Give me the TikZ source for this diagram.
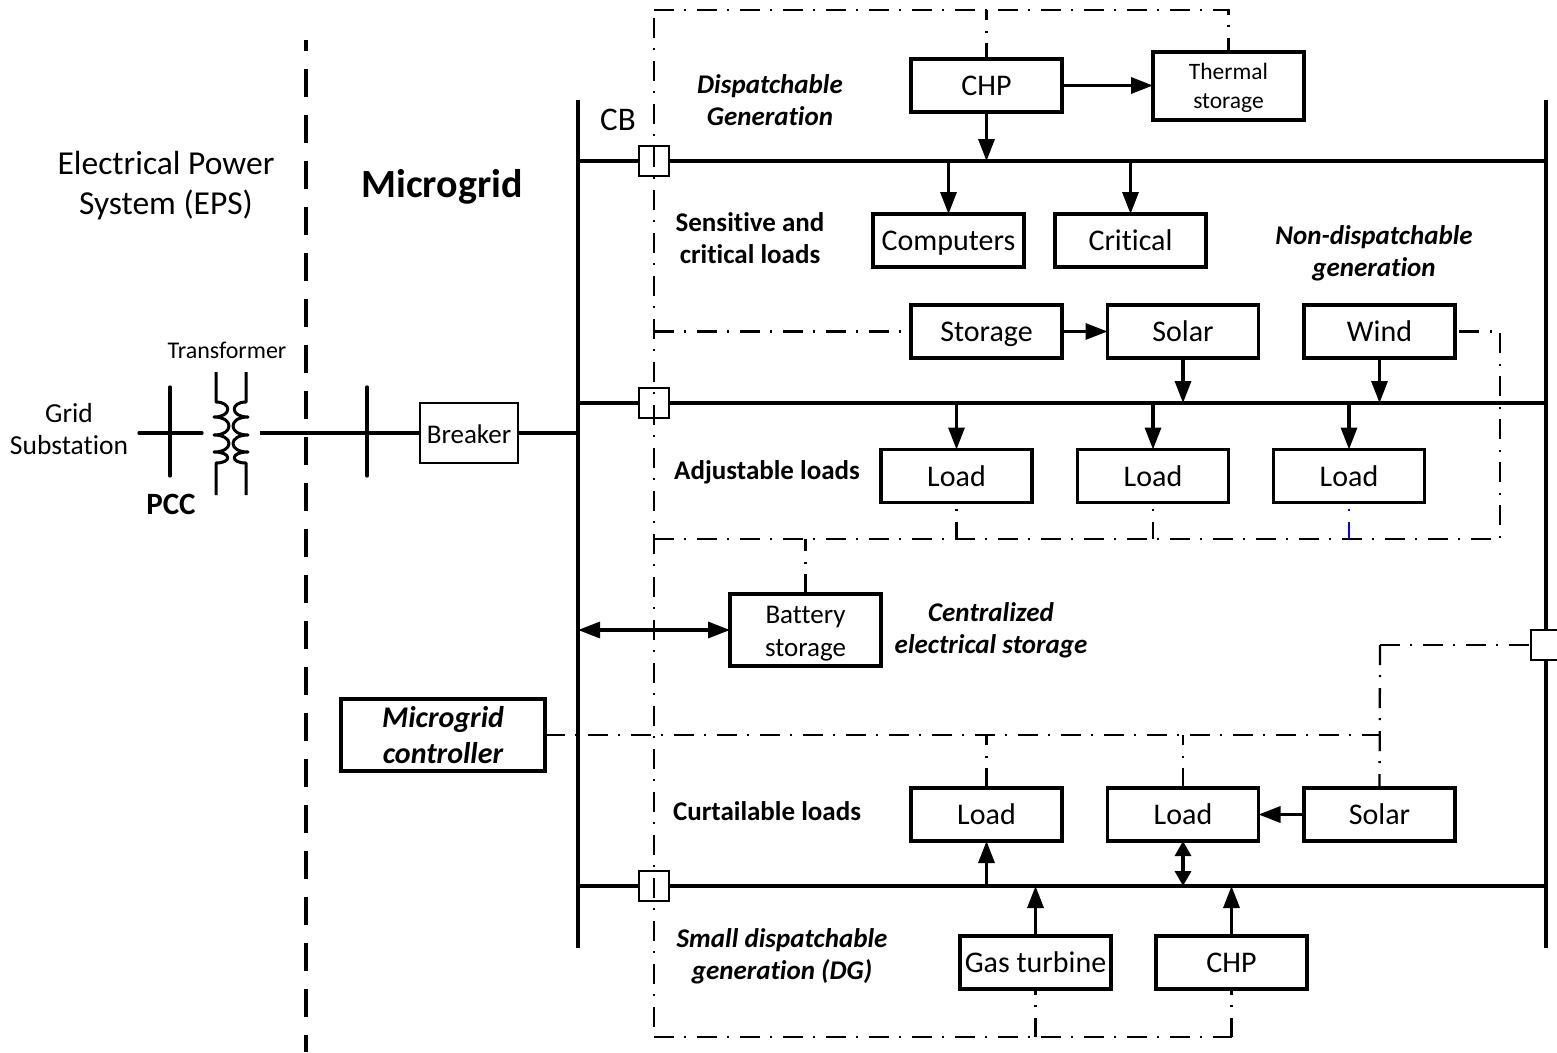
\documentclass[tikz,border=0pt]{standalone}
\usepackage{fontspec}
\setmainfont[Ligatures=NoCommon]{Carlito}
\usetikzlibrary{arrows.meta}
\newcommand{\fs}[2]{\fontsize{#1}{#2}\selectfont}
\tikzset{
  x=1pt,y=-1pt,
  box/.style={draw,line width=3.3pt,fill=white,inner sep=0pt,outer sep=0pt,minimum width=151pt,minimum height=53pt,align=center,font=\fs{30}{33},text height=25pt,text depth=5pt},
  tallbox/.style={box,minimum height=69pt,font=\fs{27}{33},text height=,text depth=},
  breakerbox/.style={box,line width=2pt,minimum width=98pt,minimum height=60pt,font=\fs{27}{30}},
  ctrlbox/.style={box,minimum width=204pt,minimum height=72pt,font=\bfseries\itshape\fs{30}{36},text height=,text depth=},
  cbbox/.style={draw,line width=2.6pt,fill=white,inner sep=0pt,outer sep=0pt,minimum width=30pt,minimum height=30pt},
  bus/.style={line width=3.3pt},
  feed/.style={line width=3.3pt,-{Triangle[length=22pt,width=16pt]}},
  dfeed/.style={line width=3.3pt,{Triangle[length=15pt,width=16pt]}-{Triangle[length=15pt,width=16pt]}},
  ctl/.style={line width=2.3pt,dash pattern=on 20pt off 10pt on 2pt off 11pt},
  boundary/.style={line width=3.3pt,dash pattern=on 28pt off 18pt,dash phase=17pt},
  lab/.style={inner sep=0pt,align=center,font=\fs{27}{32}},
  blab/.style={lab,font=\bfseries\fs{27}{32}},
  bilab/.style={lab,font=\bfseries\itshape\fs{27}{32}}
}
\begin{document}
\begin{tikzpicture}
\useasboundingbox (0,0) rectangle (1557,1052);
\fill[white] (0,0) rectangle (1557,1052);
% anchors
\coordinate (boundT) at (306,40);
\coordinate (boundB) at (306,1052);
\coordinate (busLT) at (578,100);
\coordinate (busLB) at (578,948);
\coordinate (busRT) at (1546,100);
\coordinate (busRB) at (1546,948);
\coordinate (bus1L) at (578,161);
\coordinate (bus1R) at (1546,161);
\coordinate (bus2L) at (578,403);
\coordinate (bus2R) at (1546,403);
\coordinate (bus3L) at (578,886);
\coordinate (bus3R) at (1546,886);
\coordinate (ctlTL) at (654,10);
\coordinate (ctlBL) at (654,1037);
\coordinate (ctlM) at (654,539);
\coordinate (ctlMR) at (1500,539);
\coordinate (ctlCR) at (1380,735);
\coordinate (ctlSC) at (1380,645);
\coordinate (feedL) at (139,433);
\coordinate (feedLR) at (202,433);
\coordinate (feedR) at (260,433);
\coordinate (pccT) at (170,387);
\coordinate (pccB) at (170,476);
\coordinate (mgT) at (367,387);
\coordinate (mgB) at (367,476);
\coordinate (busLmain) at (578,433);
\coordinate (busLbatt) at (578,630);
% buses and boundary
\draw[boundary] (boundT) -- (boundB);
\draw[bus] (busLT) -- (busLB);
\draw[bus] (busRT) -- (busRB);
\draw[bus] (bus1L) -- (bus1R);
\draw[bus] (bus2L) -- (bus2R);
\draw[bus] (bus3L) -- (bus3R);
% circuit breakers
\node[cbbox] (cb1) at (654,161) {};
\node[cbbox] (cb2) at (654,403) {};
\node[cbbox] (cb3) at (654,886) {};
\node[cbbox] (cb4) at (1546,645) {};
% boxes
\node[box] (chpT) at (986.5,85.5) {CHP};
\node[tallbox,minimum height=68pt,font=\fs{23.5}{29}] (thermal) at (1228.5,86) {\rule{0pt}{21pt}Thermal\\storage};
\node[box] (computers) at (948.5,240.5) {Computers};
\node[box] (critical) at (1130.5,240.5) {Critical};
\node[box] (storage) at (986.5,331.5) {Storage};
\node[box] (solarT) at (1183,331.5) {Solar};
\node[box] (wind) at (1379.5,331.5) {Wind};
\node[box] (load1) at (956.5,476) {Load};
\node[box] (load2) at (1153,476) {Load};
\node[box] (load3) at (1349,476) {Load};
\node[tallbox,minimum height=72pt] (battery) at (805.5,630) {\rule{0pt}{25pt}Battery\\storage};
\node[ctrlbox] (ctrl) at (443,735) {Microgrid\\controller};
\node[box] (load4) at (986.5,814.5) {Load};
\node[box] (load5) at (1183,814.5) {Load};
\node[box] (solarB) at (1379.5,814.5) {Solar};
\node[box] (gas) at (1035.5,962.5) {Gas turbine};
\node[box] (chpB) at (1231.5,962.5) {CHP};
\node[breakerbox] (breaker) at (469,433) {Breaker};
% grid connection
\draw[bus,line cap=round] (feedL) -- (feedLR);
\draw[bus,line cap=round] (pccT) -- (pccB);
\draw[bus,line cap=round] (mgT) -- (mgB);
\draw[bus] (feedR) -- (breaker.west);
\draw[bus] (breaker.east) -- (busLmain);
% transformer
\draw[line width=3pt,line join=round]
  (216,372) -- (216,402)
  .. controls (232,402) and (232,417) .. (214,417)
  .. controls (234,417) and (234,435) .. (214,435)
  .. controls (234,435) and (234,452) .. (214,452)
  .. controls (232,452) and (232,463) .. (216,463)
  -- (216,495);
\draw[line width=3pt,line join=round]
  (246,372) -- (246,402)
  .. controls (230,402) and (230,417) .. (248,417)
  .. controls (228,417) and (228,435) .. (248,435)
  .. controls (228,435) and (228,452) .. (248,452)
  .. controls (230,452) and (230,463) .. (246,463)
  -- (246,495);
% control lines
\draw[ctl,dash phase=35pt] (ctlTL) -- (ctlBL);
\draw[ctl] (ctlTL) -- (thermal.north |- ctlTL) -- (thermal.north);
\draw[ctl,dash phase=4pt] (chpT.north) -- (chpT.north |- ctlTL);
\draw[ctl] (storage.west -| ctlTL) -- (storage.west);
\draw[ctl] (ctlM) -- (ctlMR) -- (wind.east -| ctlMR) -- (wind.east);
\draw[ctl,dash phase=24pt] (load1.south) -- (load1.south |- ctlM);
\draw[ctl,dash phase=24pt] (load2.south) -- (load2.south |- ctlM);
\draw[ctl,blue,dash phase=24pt] (load3.south) -- (load3.south |- ctlM);
\draw[ctl] (battery.north) -- (battery.north |- ctlM);
\draw[ctl] (ctrl.east) -- (ctlCR);
\draw[ctl] (load4.north) -- (load4.north |- ctlCR);
\draw[ctl] (load5.north) -- (load5.north |- ctlCR);
\draw[ctl] (ctlSC) -- (cb4.west);
\draw[ctl] (ctlSC) -- (solarB.north);
\draw[ctl] (ctlBL) -- (chpB.south |- ctlBL);
\draw[ctl,dash phase=14pt] (chpB.south) -- (chpB.south |- ctlBL);
\draw[ctl,dash phase=14pt] (gas.south) -- (gas.south |- ctlBL);
% power arrows
\draw[feed] (chpT.east) -- (thermal.west |- chpT.east);
\draw[feed] (chpT.south) -- (chpT.south |- bus1L);
\draw[feed] (computers.north |- bus1L) -- (computers.north);
\draw[feed] (critical.north |- bus1L) -- (critical.north);
\draw[feed] (storage.east) -- (solarT.west);
\draw[feed] (solarT.south) -- (solarT.south |- bus2L);
\draw[feed] (wind.south) -- (wind.south |- bus2L);
\draw[feed] (load1.north |- bus2L) -- (load1.north);
\draw[feed] (load2.north |- bus2L) -- (load2.north);
\draw[feed] (load3.north |- bus2L) -- (load3.north);
\draw[dfeed,{Triangle[length=22pt,width=16pt]}-{Triangle[length=22pt,width=16pt]}] (busLbatt) -- (battery.west);
\draw[feed] (solarB.west) -- (load5.east);
\draw[feed] (load4.south |- bus3L) -- (load4.south);
\draw[dfeed] (load5.south) -- (load5.south |- bus3L);
\draw[feed] (gas.north) -- (gas.north |- bus3L);
\draw[feed] (chpB.north) -- (chpB.north |- bus3L);
% labels
\node[lab,font=\fs{33.5}{40}] (eps) at (166,186) {Electrical Power\\System (EPS)};
\node[blab,font=\bfseries\fs{40}{44}] (mg) at (442,187) {Microgrid};
\node[lab,font=\fs{24}{28}] (xf) at (227,350) {Transformer};
\node[lab,font=\fs{27.5}{32}] (gridsub) at (69,429) {Grid\\Substation};
\node[blab,font=\bfseries\fs{31}{34}] (pcc) at (171,504) {PCC};
\node[lab,font=\fs{33}{36}] (cb) at (618,120) {CB};
\node[bilab] (dg) at (770,100.5) {Dispatchable\\Generation};
\node[blab] (sc) at (750,238) {Sensitive and\\critical loads};
\node[bilab] (nd) at (1374,253) {Non-dispatchable\\generation};
\node[blab] (al) at (767,472) {Adjustable loads};
\node[bilab] (ces) at (991,630) {Centralized\\electrical storage};
\node[blab] (cl) at (767,811) {Curtailable loads};
\node[bilab] (sd) at (782,956) {Small dispatchable\\generation (DG)};
\end{tikzpicture}
\end{document}
